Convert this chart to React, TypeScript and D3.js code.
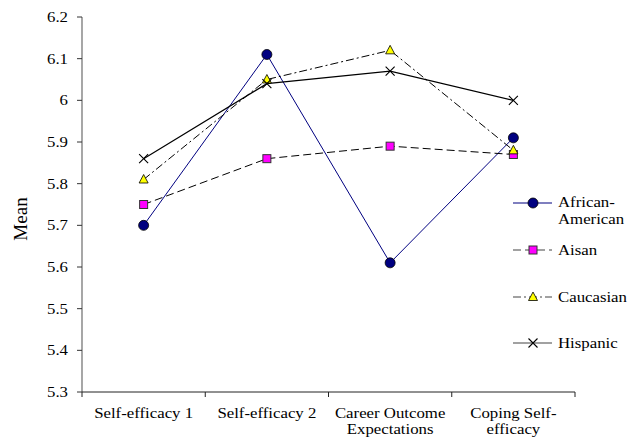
import React from "react";
import * as d3 from "d3";

const categories = [
  ["Self-efficacy 1"],
  ["Self-efficacy 2"],
  ["Career Outcome", "Expectations"],
  ["Coping Self-", "efficacy"],
];
const seriesNames = ["African-American", "Aisan", "Caucasian", "Hispanic"];
const africanAmerican = [5.7, 6.11, 5.61, 5.91];
const aisan = [5.75, 5.86, 5.89, 5.87];
const caucasian = [5.81, 6.05, 6.12, 5.88];
const hispanic = [5.86, 6.04, 6.07, 6.0];
const yTicks = [5.3, 5.4, 5.5, 5.6, 5.7, 5.8, 5.9, 6, 6.1, 6.2];

const W = 636;
const H = 444;
const left = 82;
const right = 575;
const top = 17;
const bottom = 392;
const FONT = "Liberation Serif";
const SX = 1.12;

type Style = { color: string; dash?: string; marker: string; width: number };
const styles: Style[] = [
  { color: "#000080", marker: "circle", width: 1 },
  { color: "#000", dash: "8,4", marker: "square", width: 1 },
  { color: "#000", dash: "8,3,2,3", marker: "triangle", width: 1 },
  { color: "#000", marker: "x", width: 1.2 },
];

function Marker({ kind, x, y }: { kind: string; x: number; y: number }) {
  if (kind === "circle")
    return <circle cx={x} cy={y} r={5} fill="#000080" stroke="#000" strokeWidth={0.8} />;
  if (kind === "square")
    return <rect x={x - 4} y={y - 4} width={8} height={8} fill="#ff00ff" stroke="#333" strokeWidth={1} />;
  if (kind === "triangle")
    return (
      <path
        d={`M${x},${y - 5}L${x + 4.5},${y + 3.5}L${x - 4.5},${y + 3.5}Z`}
        fill="#ffff00"
        stroke="#000"
        strokeWidth={0.8}
      />
    );
  return (
    <path d={`M${x - 4.5},${y - 4.5}L${x + 4.5},${y + 4.5}M${x - 4.5},${y + 4.5}L${x + 4.5},${y - 4.5}`} stroke="#000" strokeWidth={1.1} fill="none" />
  );
}

function T({ x, y, children, anchor = "middle", size = 15 }: any) {
  return (
    <text
      transform={`translate(${x},${y}) scale(${SX},1)`}
      textAnchor={anchor}
      style={{ fontFamily: FONT, fontSize: size }}
      fill="#000"
    >
      {children}
    </text>
  );
}

export default function App() {
  const data = [africanAmerican, aisan, caucasian, hispanic];
  const x = d3
    .scaleBand<number>()
    .domain(categories.map((_, i) => i))
    .range([left, right]);
  const y = d3.scaleLinear().domain([5.3, 6.2]).range([bottom, top]);
  const cx = (i: number) => (x(i) as number) + x.bandwidth() / 2;
  const line = d3
    .line<number>()
    .x((_, i) => cx(i))
    .y((d) => y(d));

  const legendY = [203, 250, 297, 343];
  const legendTextY = [[207, 224], [255], [302], [348]];

  return (
    <svg width={W} height={H} style={{ position: "absolute", left: 0, top: 0, background: "#fff" }}>
      {/* y axis */}
      <line x1={left} x2={left} y1={top} y2={bottom} stroke="#777" strokeWidth={1.3} />
      {yTicks.map((t) => (
        <g key={t}>
          <line x1={left - 5} x2={left} y1={y(t)} y2={y(t)} stroke="#333" strokeWidth={1} />
          <T x={68} y={y(t) + 5} anchor="end">
            {d3.format("")(t)}
          </T>
        </g>
      ))}
      {/* x axis */}
      <line x1={left} x2={right} y1={bottom} y2={bottom} stroke="#222" strokeWidth={1} />
      {[...categories.map((_, i) => x(i) as number), right].map((v, i) => (
        <line key={i} x1={v} x2={v} y1={bottom} y2={bottom + 5} stroke="#222" strokeWidth={1} />
      ))}
      {categories.map((lines, i) =>
        lines.map((s, j) => (
          <T key={i + "-" + j} x={cx(i)} y={418 + j * 16}>
            {s}
          </T>
        ))
      )}
      {/* y label */}
      <text
        transform={`translate(27,219) rotate(-90)`}
        textAnchor="middle"
        style={{ fontFamily: FONT, fontSize: 19 }}
      >
        Mean
      </text>
      {/* series */}
      {data.map((d, si) => (
        <path
          key={si}
          d={line(d) || ""}
          fill="none"
          stroke={styles[si].color}
          strokeWidth={styles[si].width}
          strokeDasharray={styles[si].dash}
        />
      ))}
      {data.map((d, si) =>
        d.map((v, i) => <Marker key={si + "-" + i} kind={styles[si].marker} x={cx(i)} y={y(v)} />)
      )}
      {/* legend */}
      {seriesNames.map((n, si) => (
        <g key={n}>
          <line
            x1={513}
            x2={552}
            y1={legendY[si]}
            y2={legendY[si]}
            stroke={si === 0 ? "#000080" : "#444"}
            strokeWidth={1.2}
            strokeDasharray={styles[si].dash}
          />
          <Marker kind={styles[si].marker} x={533} y={legendY[si]} />
          {(si === 0 ? ["African-", "American"] : [n]).map((s, j) => (
            <T key={j} x={558} y={legendTextY[si][j]} anchor="start">
              {s}
            </T>
          ))}
        </g>
      ))}
    </svg>
  );
}
